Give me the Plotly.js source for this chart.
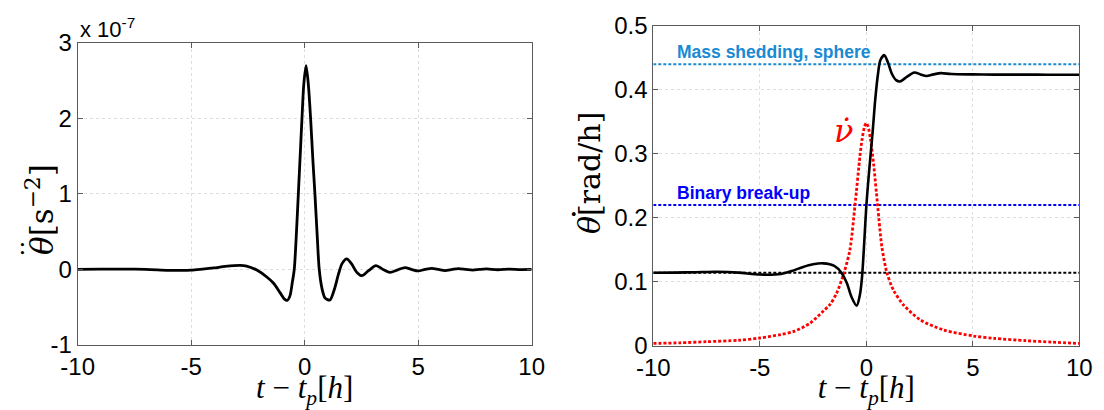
<!DOCTYPE html>
<html>
<head>
<meta charset="utf-8">
<script src="https://cdn.plot.ly/plotly-3.0.1.min.js"></script>
<style>html,body{margin:0;padding:0;background:#fff;}#chart{width:1104px;height:410px;}</style>
</head>
<body>
<div id="chart"></div>
<script>
// ---------- Left panel: angular acceleration (units of 1e-7 s^-2) ----------
const tAcc = [-10, -9, -8, -7, -6, -5.5, -5, -4.5, -4, -3.5, -2.85, -2.56, -2.11, -1.67, -1.38, -1.08, -0.9, -0.77, -0.65, -0.55, -0.46, -0.37, -0.28, -0.2, -0.12, -0.04, 0.06, 0.16, 0.26, 0.36, 0.45, 0.55, 0.64, 0.76, 0.9, 1.11, 1.3, 1.5, 1.65, 1.85, 2.05, 2.3, 2.52, 2.8, 3.14, 3.45, 3.76, 4.1, 4.42, 4.7, 5.0, 5.3, 5.6, 5.9, 6.18, 6.5, 6.77, 7.1, 7.4, 7.7, 8.0, 8.5, 9.0, 9.5, 10];
const thetaDDot = [0, 0.003, 0.005, 0.0, -0.012, -0.013, -0.01, 0.004, 0.02, 0.04, 0.054, 0.045, -0.008, -0.1, -0.18, -0.31, -0.39, -0.41, -0.35, -0.18, 0.0, 0.45, 1.0, 1.5, 2.0, 2.45, 2.695, 2.45, 2.0, 1.45, 1.0, 0.45, 0.0, -0.25, -0.38, -0.405, -0.27, -0.05, 0.08, 0.14, 0.08, -0.04, -0.083, -0.02, 0.05, 0.0, -0.04, -0.005, 0.025, 0.0, -0.02, 0.0, 0.015, 0.0, -0.015, 0.0, 0.01, 0.0, -0.01, 0.0, 0.007, -0.004, 0.004, -0.002, 0.0];

// ---------- Right panel: angular velocity (rad/h) ----------
const tVel = [-10, -9, -8, -7, -6, -5, -4, -3.5, -3, -2.5, -2.02, -1.5, -1.16, -0.9, -0.7, -0.45, -0.3, -0.2, -0.1, 0, 0.1, 0.2, 0.3, 0.42, 0.55, 0.66, 0.85, 1.0, 1.2, 1.4, 1.58, 1.9, 2.25, 2.55, 2.83, 3.15, 3.5, 4, 5, 6, 7, 8, 9, 10];
const thetaDot = [0.1144, 0.1146, 0.1152, 0.1158, 0.1145, 0.1115, 0.1125, 0.117, 0.123, 0.1275, 0.129, 0.125, 0.114, 0.097, 0.077, 0.063, 0.08, 0.108, 0.16, 0.218, 0.26, 0.298, 0.335, 0.385, 0.425, 0.446, 0.454, 0.444, 0.425, 0.415, 0.413, 0.42, 0.427, 0.424, 0.4215, 0.424, 0.426, 0.4245, 0.424, 0.4237, 0.4236, 0.4236, 0.4235, 0.4235];

const tNu = [-10, -8.75, -7.5, -6, -5, -4, -3.43, -2.65, -2.0, -1.7, -1.4, -1.05, -0.77, -0.53, -0.3, -0.2, -0.08, 0, 0.08, 0.2, 0.34, 0.53, 0.73, 0.97, 1.28, 1.75, 2.53, 3.63, 5.04, 6, 7.5, 8.75, 10];
const nuDot = [0.004, 0.005, 0.0067, 0.009, 0.0125, 0.018, 0.0224, 0.0354, 0.055, 0.065, 0.082, 0.114, 0.15, 0.22, 0.296, 0.322, 0.343, 0.348, 0.343, 0.322, 0.285, 0.22, 0.155, 0.114, 0.087, 0.064, 0.041, 0.025, 0.0156, 0.012, 0.0083, 0.006, 0.004];

// Reference levels (rad/h)
const hLineX = [-10, 10];
const massShedding = 0.44;
const binaryBreakup = 0.22;
const initialRate = 0.1144;

// Tick labels
const xTickVals = [-10, -5, 0, 5, 10];
const xTickText = ['-10', '-5', '0', '5', '10'];
const y1TickVals = [-1, 0, 1, 2, 3];
const y1TickText = ['-1', '0', '1', '2', '3'];
const y2TickVals = [0, 0.1, 0.2, 0.3, 0.4, 0.5];
const y2TickText = ['0', '0.1', '0.2', '0.3', '0.4', '0.5'];

const NU_DOT = '\u03BD\u0307';

const W = 1104, H = 410;
const SANS = 'Liberation Sans, Arial, sans-serif';
const SERIF = 'Liberation Serif, Times New Roman, serif';
const DOTSERIF = 'DejaVu Serif, serif';
const tickFont = {family: SANS, size: 24, color: '#000'};
const titleFont = {family: SERIF, size: 31, color: '#000'};

function axisBase(extra) {
  return Object.assign({
    showline: true, linecolor: '#5a5a5a', linewidth: 1, mirror: 'ticks',
    ticks: 'inside', ticklen: 5, tickcolor: '#5a5a5a', tickwidth: 1,
    showgrid: true, gridcolor: '#dedede', griddash: 'dot', gridwidth: 1,
    zeroline: false, tickfont: tickFont, fixedrange: true
  }, extra);
}

const traces = [
  {x: tAcc, y: thetaDDot, xaxis: 'x', yaxis: 'y', mode: 'lines',
   line: {color: '#000', width: 2.8, shape: 'spline', smoothing: 0.8}, showlegend: false, hoverinfo: 'skip'},
  {x: hLineX, y: [massShedding, massShedding], xaxis: 'x2', yaxis: 'y2', mode: 'lines',
   line: {color: '#1a8ad2', width: 2, dash: '3px,2px'}, showlegend: false, hoverinfo: 'skip'},
  {x: hLineX, y: [binaryBreakup, binaryBreakup], xaxis: 'x2', yaxis: 'y2', mode: 'lines',
   line: {color: '#0000ff', width: 2, dash: '3px,2px'}, showlegend: false, hoverinfo: 'skip'},
  {x: hLineX, y: [initialRate, initialRate], xaxis: 'x2', yaxis: 'y2', mode: 'lines',
   line: {color: '#000', width: 2, dash: '3px,2px'}, showlegend: false, hoverinfo: 'skip'},
  {x: tNu, y: nuDot, xaxis: 'x2', yaxis: 'y2', mode: 'lines',
   line: {color: '#ff0000', width: 2.8, dash: '3px,2px', shape: 'spline', smoothing: 0.8}, showlegend: false, hoverinfo: 'skip'},
  {x: tVel, y: thetaDot, xaxis: 'x2', yaxis: 'y2', mode: 'lines',
   line: {color: '#000', width: 2.6, shape: 'spline', smoothing: 0.8}, showlegend: false, hoverinfo: 'skip'}
];

const layout = {
  width: W, height: H,
  margin: {l: 0, r: 0, t: 0, b: 0},
  paper_bgcolor: '#fff', plot_bgcolor: '#fff',
  xaxis: axisBase({domain: [77.7 / W, 531.7 / W], range: [-10, 10], anchor: 'y',
    tickvals: xTickVals, ticktext: xTickText,
    title: {text: '<i>t</i> − <i>t<sub>p</sub></i>[<i>h</i>]', font: titleFont, standoff: 2}}),
  yaxis: axisBase({domain: [1 - 345 / H, 1 - 42.7 / H], range: [-1, 3], anchor: 'x',
    tickvals: y1TickVals, ticktext: y1TickText}),
  xaxis2: axisBase({domain: [653.3 / W, 1079.3 / W], range: [-10, 10], anchor: 'y2',
    tickvals: xTickVals, ticktext: xTickText,
    title: {text: '<i>t</i> − <i>t<sub>p</sub></i>[<i>h</i>]', font: titleFont, standoff: 2}}),
  yaxis2: axisBase({domain: [1 - 346 / H, 1 - 25.7 / H], range: [0, 0.5], anchor: 'x2',
    tickvals: y2TickVals, ticktext: y2TickText}),
  annotations: [
    // y-axis titles
    {xref: 'paper', yref: 'paper', x: 40 / W, y: 1 - 210 / H, xanchor: 'center', yanchor: 'middle',
     textangle: -90, showarrow: false, font: {family: DOTSERIF, size: 31, color: '#000'},
     text: '<i>θ</i>[s<sup>−2</sup>]'},
    // double dot over theta (rotated with the title)
    {xref: 'paper', yref: 'paper', x: 22 / W, y: 1 - 248.5 / H, xanchor: 'center', yanchor: 'middle',
     textangle: -90, showarrow: false, font: {family: DOTSERIF, size: 25, color: '#000'}, text: '··'},
    {xref: 'paper', yref: 'paper', x: 590 / W, y: 1 - 173 / H, xanchor: 'center', yanchor: 'middle',
     textangle: -90, showarrow: false, font: {family: DOTSERIF, size: 30, color: '#000'},
     text: '<i>θ</i>[rad/h]'},
    // single dot over theta
    {xref: 'paper', yref: 'paper', x: 574 / W, y: 1 - 213 / H, xanchor: 'center', yanchor: 'middle',
     showarrow: false, font: {family: DOTSERIF, size: 30, color: '#000'}, text: '·'},
    {xref: 'paper', yref: 'paper', x: 78 / W, y: 1 - 28 / H, xanchor: 'left', yanchor: 'middle',
     text: 'x 10<sup>-7</sup>', showarrow: false, font: {family: SANS, size: 22, color: '#000'}},
    {xref: 'x2', yref: 'y2', x: -8.98, y: 0.4585, xanchor: 'left', yanchor: 'middle',
     text: '<b>Mass shedding, sphere</b>', showarrow: false,
     font: {family: SANS, size: 17.5, color: '#1a8ad2'}},
    {xref: 'x2', yref: 'y2', x: -8.98, y: 0.2384, xanchor: 'left', yanchor: 'middle',
     text: '<b>Binary break-up</b>', showarrow: false,
     font: {family: SANS, size: 17.5, color: '#0000ff'}},
    {xref: 'x2', yref: 'y2', x: -1.05, y: 0.336, xanchor: 'center', yanchor: 'middle',
     text: '<i>' + NU_DOT + '</i>', showarrow: false,
     font: {family: DOTSERIF, size: 32, color: '#ff0000'}}
  ]
};

Plotly.newPlot('chart', traces, layout, {displayModeBar: false, staticPlot: true});
</script>
</body>
</html>
